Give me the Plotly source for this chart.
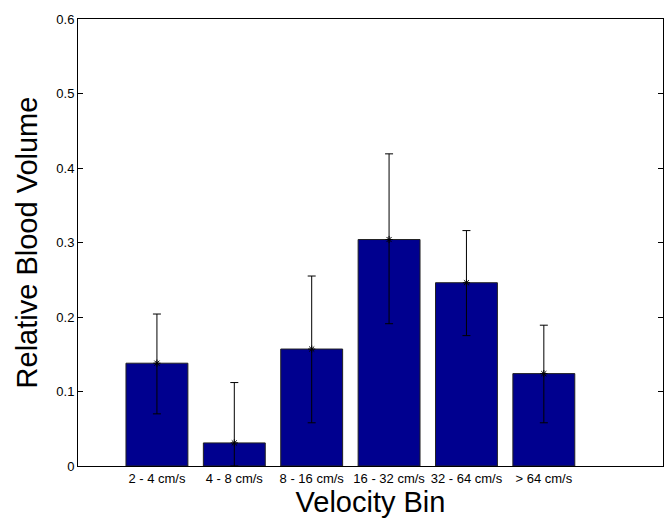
import plotly.graph_objects as go

categories = ["2 - 4 cm/s", "4 - 8 cm/s", "8 - 16 cm/s", "16 - 32 cm/s", "32 - 64 cm/s", "> 64 cm/s"]
positions = [1, 2, 3, 4, 5, 6]
values = [0.138, 0.031, 0.157, 0.304, 0.246, 0.124]
err_plus = [0.066, 0.081, 0.098, 0.115, 0.070, 0.065]
err_minus = [0.068, 0.031, 0.099, 0.113, 0.071, 0.066]
y_ticks = [0, 0.1, 0.2, 0.3, 0.4, 0.5, 0.6]

fig = go.Figure()
fig.add_trace(go.Bar(
    x=positions, y=values, width=0.8,
    marker=dict(color="#00008F", line=dict(color="#222222", width=1)),
    showlegend=False, hoverinfo="skip",
))
fig.add_trace(go.Scatter(
    x=positions, y=values, mode="markers",
    marker=dict(symbol="asterisk-open", size=6, color="black", line=dict(color="black", width=1)),
    error_y=dict(type="data", symmetric=False, array=err_plus, arrayminus=err_minus,
                 color="black", thickness=1, width=4),
    showlegend=False, hoverinfo="skip",
))

fig.update_layout(
    width=665, height=520,
    margin=dict(l=78, r=2, t=19, b=54),
    paper_bgcolor="white", plot_bgcolor="white",
    font=dict(family="Liberation Sans, Arial", color="black"),
    bargap=0.2,
)
fig.update_xaxes(
    range=[-0.02, 7.54], tickvals=positions, ticktext=categories,
    tickfont=dict(size=13), ticks="", showgrid=False, zeroline=False,
    showline=True, linecolor="black", linewidth=1, mirror=True,
    automargin=False,
    title=dict(text="Velocity Bin", font=dict(size=29), standoff=0),
)
fig.update_yaxes(
    range=[0, 0.6], tickvals=y_ticks, ticktext=[str(v) if v else "0" for v in y_ticks],
    tickfont=dict(size=13), ticks="inside", ticklen=5, tickcolor="black",
    showgrid=False, zeroline=False,
    showline=True, linecolor="black", linewidth=1, mirror="ticks",
    automargin=False,
    title=dict(text="Relative Blood Volume", font=dict(size=29), standoff=10),
)

fig.write_html(
    "out.html",
    config={"displayModeBar": False},
    post_script="document.body.style.margin='0';document.body.style.overflow='hidden';",
)
